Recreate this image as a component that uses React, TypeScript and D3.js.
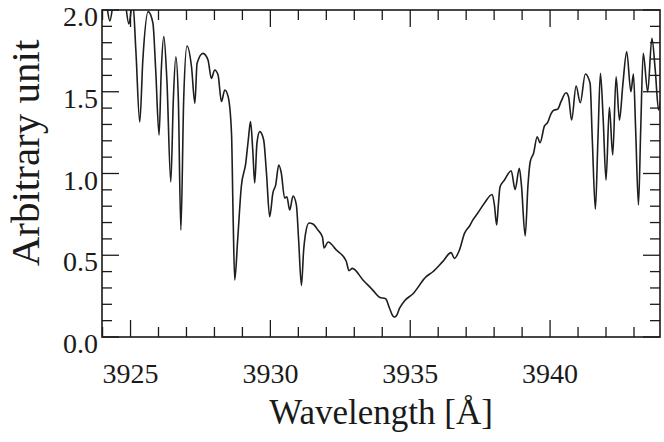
import React from "react";
import * as d3 from "d3";

const wavelength = [
  3923.975, 3924.118, 3924.26, 3924.40, 3924.62, 3924.80, 3924.94, 3925.08, 3925.19, 3925.33,
  3925.44, 3925.63, 3925.80, 3925.90, 3926.02, 3926.10, 3926.19, 3926.30, 3926.44, 3926.53,
  3926.62, 3926.71, 3926.80, 3926.90, 3927.02, 3927.18, 3927.30, 3927.38, 3927.59, 3927.77,
  3927.89, 3928.01, 3928.13, 3928.25, 3928.37, 3928.49, 3928.61, 3928.67, 3928.725, 3928.83,
  3928.96, 3929.12, 3929.21, 3929.29, 3929.37, 3929.44, 3929.52, 3929.62, 3929.76, 3929.86,
  3929.975, 3930.09, 3930.19, 3930.30, 3930.39, 3930.51, 3930.59, 3930.69, 3930.81, 3930.93,
  3931.01, 3931.11, 3931.19, 3931.26, 3931.38, 3931.52, 3931.70, 3931.86, 3931.92, 3932.06,
  3932.36, 3932.71, 3932.81, 3932.93, 3933.31, 3933.66, 3933.90, 3934.12, 3934.26, 3934.38,
  3934.44, 3934.50, 3934.62, 3934.80, 3935.09, 3935.57, 3935.81, 3936.16, 3936.46, 3936.58,
  3936.76, 3936.94, 3937.12, 3937.24, 3937.41, 3937.65, 3937.93, 3938.01, 3938.09, 3938.15,
  3938.21, 3938.37, 3938.61, 3938.75, 3938.90, 3938.975, 3939.11, 3939.21, 3939.29, 3939.41,
  3939.54, 3939.64, 3939.80, 3939.91, 3940.04, 3940.15, 3940.27, 3940.39, 3940.57, 3940.66,
  3940.77, 3940.93, 3941.08, 3941.26, 3941.43, 3941.51, 3941.62, 3941.71, 3941.80, 3941.90,
  3942.00, 3942.12, 3942.24, 3942.36, 3942.48, 3942.60, 3942.74, 3942.89, 3942.98, 3943.06,
  3943.16, 3943.24, 3943.33, 3943.49, 3943.64, 3943.76, 3943.88, 3943.97,
];

const flux = [
  2.12, 2.06, 1.933, 2.06, 2.13, 2.06, 1.914, 2.05, 1.755, 1.315,
  1.694, 1.99, 1.92, 1.633, 1.235, 1.633, 1.837, 1.57, 0.948, 1.45,
  1.714, 1.45, 0.654, 1.45, 1.78, 1.653, 1.43, 1.674, 1.735, 1.694,
  1.582, 1.633, 1.602, 1.44, 1.511, 1.47, 1.248, 0.716, 0.349, 0.593,
  0.919, 1.064, 1.205, 1.317, 1.144, 0.942, 1.187, 1.256, 1.205, 1.003,
  0.736, 0.881, 0.93, 1.052, 1.003, 0.85, 0.858, 0.777, 0.862, 0.807,
  0.593, 0.315, 0.532, 0.636, 0.697, 0.691, 0.654, 0.613, 0.544, 0.581,
  0.532, 0.465, 0.406, 0.42, 0.349, 0.287, 0.243, 0.234, 0.176, 0.128,
  0.122, 0.128, 0.176, 0.222, 0.263, 0.369, 0.399, 0.461, 0.516, 0.481,
  0.532, 0.634, 0.679, 0.716, 0.757, 0.818, 0.872, 0.807, 0.685, 0.807,
  0.917, 0.96, 1.017, 0.903, 1.032, 0.93, 0.618, 0.93, 1.072, 1.124,
  1.225, 1.188, 1.291, 1.311, 1.368, 1.388, 1.393, 1.439, 1.494, 1.47,
  1.327, 1.535, 1.433, 1.609, 1.552, 1.205, 0.781, 1.205, 1.613, 1.327,
  0.96, 1.405, 1.113, 1.592, 1.327, 1.541, 1.745, 1.5, 1.609, 1.266,
  0.807, 1.266, 1.735, 1.5, 1.827, 1.633, 1.388, 1.48,
];

const xDomain = [3923.98, 3943.93];
const yDomain = [0, 2];
const xMajorTicks = [3925, 3930, 3935, 3940];
const yMajorTicks = [0, 0.5, 1.0, 1.5, 2.0];
const xLabel = "Wavelength [Å]";
const yLabel = "Arbitrary unit";

const W = 664;
const H = 442;
const M = { left: 102, right: 660, top: 10, bottom: 337 };
const FONT = "Liberation Serif, Times New Roman, DejaVu Serif, serif";

export default function App() {
  const x = d3.scaleLinear().domain(xDomain).range([M.left, M.right]);
  const y = d3.scaleLinear().domain(yDomain).range([M.bottom, M.top]);

  const pts = wavelength.map((w, i) => [w, flux[i]] as [number, number]);
  const line = d3
    .line<[number, number]>()
    .x((d) => x(d[0]))
    .y((d) => y(d[1]))
    .curve(d3.curveMonotoneX);

  const xMinor = d3.range(3924, 3944, 1).filter((v) => v >= xDomain[0] && v <= xDomain[1] && !xMajorTicks.includes(v));
  const yMinor = d3.range(1, 20).map((i) => i / 10).filter((v) => !yMajorTicks.some((m) => Math.abs(m - v) < 1e-6));

  const majLen = 17;
  const minLen = 10;
  const stroke = "#1a1a1a";
  const txt = { fontFamily: FONT, fill: "#1a1a1a" } as React.CSSProperties;

  return (
    <svg width={W} height={H} style={{ position: "absolute", left: 0, top: 0, background: "#fff" }}>
      <defs>
        <clipPath id="plotclip">
          <rect x={M.left} y={M.top} width={M.right - M.left} height={M.bottom - M.top} />
        </clipPath>
      </defs>
      <rect x={0} y={0} width={W} height={H} fill="#fff" />
      <path d={line(pts) || ""} fill="none" stroke="#1e1e1e" strokeWidth={1.6} clipPath="url(#plotclip)" strokeLinejoin="round" />
      {xMajorTicks.map((t) => (
        <g key={"xM" + t}>
          <line x1={x(t)} x2={x(t)} y1={M.bottom} y2={M.bottom - majLen} stroke={stroke} strokeWidth={1.3} />
          <line x1={x(t)} x2={x(t)} y1={M.top} y2={M.top + majLen} stroke={stroke} strokeWidth={1.3} />
          <text x={x(t)} y={383} textAnchor="middle" style={{ ...txt, fontSize: 28 }}>
            {t}
          </text>
        </g>
      ))}
      {xMinor.map((t) => (
        <g key={"xm" + t}>
          <line x1={x(t)} x2={x(t)} y1={M.bottom} y2={M.bottom - minLen} stroke={stroke} strokeWidth={1.3} />
          <line x1={x(t)} x2={x(t)} y1={M.top} y2={M.top + minLen} stroke={stroke} strokeWidth={1.3} />
        </g>
      ))}
      {yMajorTicks.map((t) => (
        <g key={"yM" + t}>
          <line x1={M.left} x2={M.left + majLen} y1={y(t)} y2={y(t)} stroke={stroke} strokeWidth={1.3} />
          <line x1={M.right} x2={M.right - majLen} y1={y(t)} y2={y(t)} stroke={stroke} strokeWidth={1.3} />
          <text x={98} y={y(t) + 16} textAnchor="end" style={{ ...txt, fontSize: 28 }}>
            {t.toFixed(1)}
          </text>
        </g>
      ))}
      {yMinor.map((t) => (
        <g key={"ym" + t}>
          <line x1={M.left} x2={M.left + minLen} y1={y(t)} y2={y(t)} stroke={stroke} strokeWidth={1.3} />
          <line x1={M.right} x2={M.right - minLen} y1={y(t)} y2={y(t)} stroke={stroke} strokeWidth={1.3} />
        </g>
      ))}
      <rect x={M.left} y={M.top} width={M.right - M.left} height={M.bottom - M.top} fill="none" stroke={stroke} strokeWidth={1.6} />
      <text x={(M.left + M.right) / 2} y={424} textAnchor="middle" style={{ ...txt, fontSize: 35 }}>
        {xLabel}
      </text>
      <text transform={`translate(39, 153) rotate(-90)`} textAnchor="middle" style={{ ...txt, fontSize: 41 }}>
        {yLabel}
      </text>
    </svg>
  );
}
